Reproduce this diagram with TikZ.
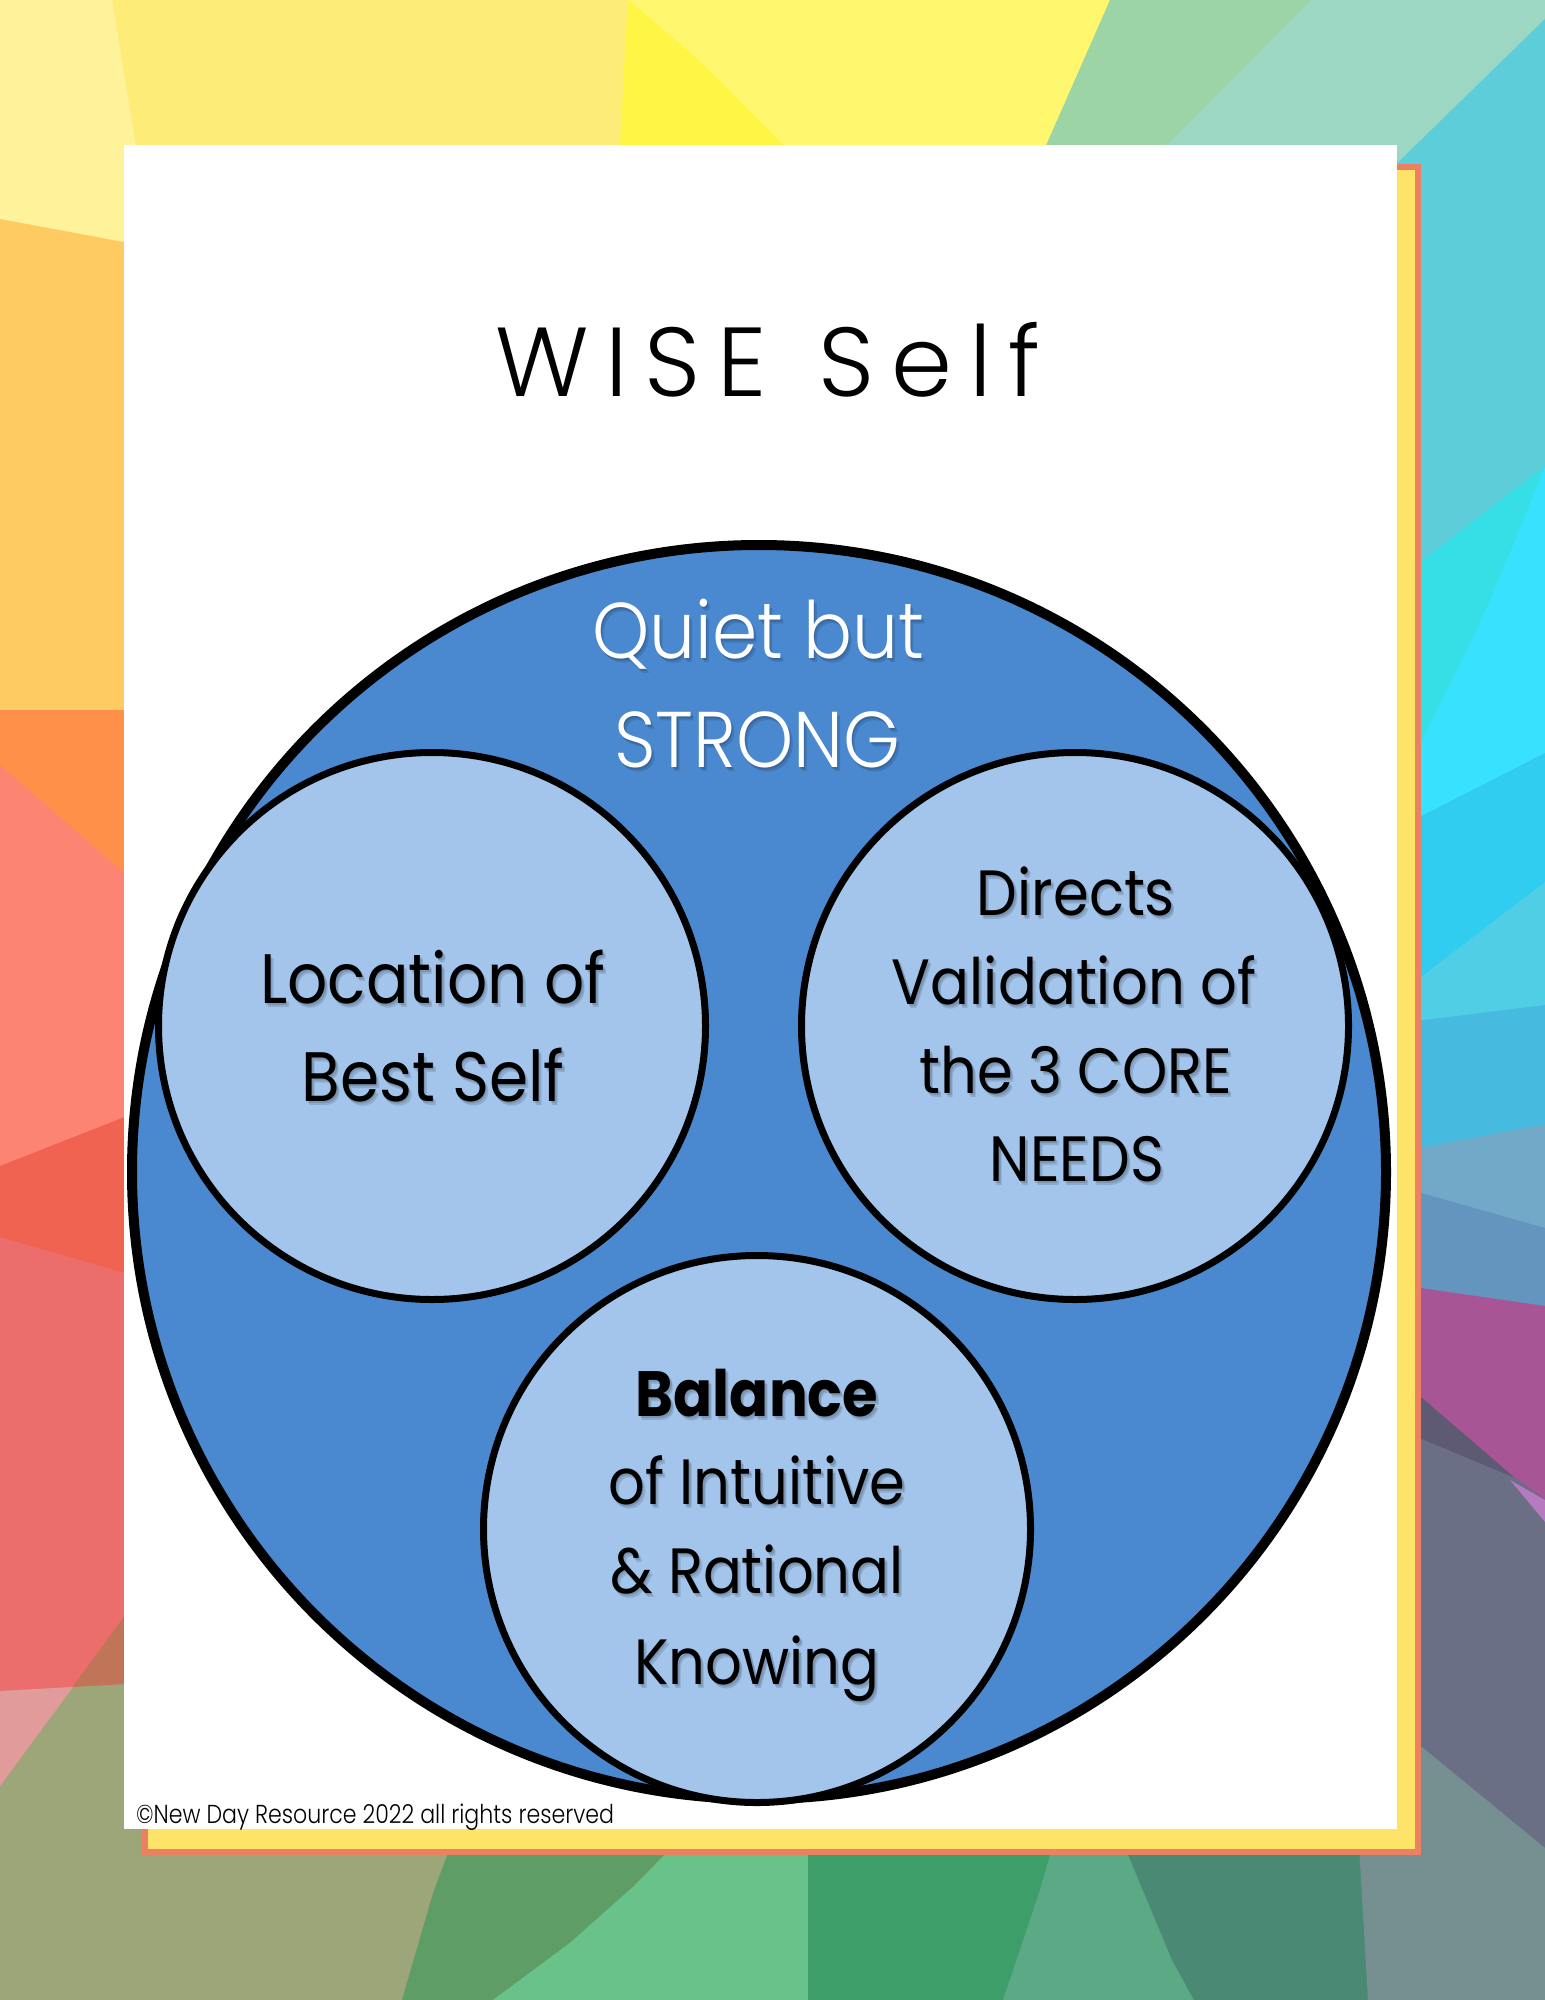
\documentclass[tikz,border=0pt]{standalone}
\usepackage{fontspec}
\newfontfamily\bodyfont[FakeStretch=0.9]{Poppins}
\newfontfamily\lightfont[FakeStretch=0.92]{Poppins Light}
\newfontfamily\titlefont[LetterSpace=17]{Poppins Light}
\newfontfamily\copyfont[FakeStretch=0.85]{Poppins Light}
\usetikzlibrary{calc}
% background colours
\definecolor{cPale}{HTML}{FEF39A}
\definecolor{cYel}{HTML}{FEEC78}
\definecolor{cLYel}{HTML}{FFF76E}
\definecolor{cBYel}{HTML}{FFF545}
\definecolor{cGrnT}{HTML}{9CD4A6}
\definecolor{cMint}{HTML}{9BD7C2}
\definecolor{cCyan}{HTML}{5DCDD9}
\definecolor{cTurq}{HTML}{36DEE6}
\definecolor{cBCyan}{HTML}{38E1FD}
\definecolor{cC4}{HTML}{30CDF0}
\definecolor{cC5}{HTML}{50CEE6}
\definecolor{cC6}{HTML}{47BADF}
\definecolor{cC7}{HTML}{72A8C8}
\definecolor{cC8}{HTML}{6395BF}
\definecolor{cMag}{HTML}{A85595}
\definecolor{cDark}{HTML}{5F5A73}
\definecolor{cPinkS}{HTML}{B57ABF}
\definecolor{cSlate}{HTML}{6A6F85}
\definecolor{cGrayT}{HTML}{768F91}
\definecolor{cOYel}{HTML}{FDCB62}
\definecolor{cOrange}{HTML}{FE9049}
\definecolor{cSalmon}{HTML}{FC8473}
\definecolor{cRed}{HTML}{F06351}
\definecolor{cRose}{HTML}{EC6E6C}
\definecolor{cBrown}{HTML}{C07458}
\definecolor{cPink}{HTML}{E19B9B}
\definecolor{cOlive}{HTML}{9DA679}
\definecolor{cG1}{HTML}{5E9E66}
\definecolor{cG2}{HTML}{68C28A}
\definecolor{cG3}{HTML}{3E9E6A}
\definecolor{cG4}{HTML}{5CA986}
\definecolor{cG5}{HTML}{4A8A74}
% frame and diagram colours
\definecolor{cFrameR}{HTML}{EC8063}
\definecolor{cFrameY}{HTML}{FDE367}
\definecolor{cBlue}{HTML}{4A89D0}
\definecolor{cLight}{HTML}{A3C5EC}

\newcommand\shtext[5]{%
  \node[#4, text=black, text opacity=0.13] (#1a) at ($(#2,#3)+(1.5,2.5)$) {#5};
  \node[#4, text=black, text opacity=0.13] (#1b) at ($(#2,#3)+(3,4.5)$) {#5};
  \node[#4] (#1) at (#2,#3) {#5};}

\begin{document}
\begin{tikzpicture}[x=0.5pt,y=-0.5pt,
  txt/.style={anchor=base, inner sep=0pt, outer sep=0pt},
  bodyL/.style={txt, text=black, font=\bodyfont\fontsize{35}{42}\selectfont},
  bodyS/.style={txt, text=black, font=\bodyfont\fontsize{32}{38}\selectfont},
  bodyW/.style={txt, text=white, font=\lightfont\fontsize{39.5}{46}\selectfont},
  titlestyle/.style={txt, text=black, font=\titlefont\fontsize{49}{56}\selectfont},
  copystyle/.style={txt, anchor=base west, text=black, font=\copyfont\fontsize{13}{15}\selectfont},
  bigcircle/.style={circle, draw=black, line width=5pt, fill=cBlue, minimum size=627pt, inner sep=0pt},
  smallcircle/.style={circle, draw=black, line width=3.5pt, fill=cLight, minimum size=273.5pt, inner sep=0pt}
]
\useasboundingbox (0,0) rectangle (1545,2000);
\begin{scope}
\clip (0,0) rectangle (1545,2000);
\fill[cPale] (0,0) rectangle (1545,2000);
% top strip
\fill[cYel] (112,0) -- (1545,0) -- (1545,200) -- (145,200) -- cycle;
\fill[cLYel] (628,0) -- (1545,0) -- (1545,200) -- (617,200) -- cycle;
\fill[cBYel] (628,0) .. controls (700,60) .. (783,145) -- (830,200) -- (617,200) -- cycle;
\fill[cGrnT] (1110,0) -- (1545,0) -- (1545,200) -- (1022,200) -- cycle;
\fill[cMint] (1311,0) -- (1545,0) -- (1545,200) -- (1112,200) -- cycle;
% right strip
\fill[cCyan] (1380,180) -- (1545,19) -- (1545,2000) -- (1380,2000) -- cycle;
\fill[cTurq] (1400,578) -- (1545,466) -- (1545,2000) -- (1400,2000) -- cycle;
\fill[cBCyan] (1400,752) -- (1422,740) .. controls (1485,615) .. (1545,466) -- (1545,2000) -- (1400,2000) -- cycle;
\fill[cC4] (1400,827) -- (1545,753) -- (1545,2000) -- (1400,2000) -- cycle;
\fill[cC5] (1400,993) -- (1545,882) -- (1545,2000) -- (1400,2000) -- cycle;
\fill[cC6] (1400,1023) -- (1545,1005) -- (1545,2000) -- (1400,2000) -- cycle;
\fill[cC7] (1400,1152) -- (1545,1124) -- (1545,2000) -- (1400,2000) -- cycle;
\fill[cC8] (1400,1187) -- (1545,1228) -- (1545,2000) -- (1400,2000) -- cycle;
\fill[cMag] (1400,1285) -- (1545,1306) -- (1545,2000) -- (1400,2000) -- cycle;
\fill[cDark] (1400,1379) -- (1515,1478) -- (1545,1500) -- (1545,2000) -- (1400,2000) -- cycle;
\fill[cSlate] (1400,1430) -- (1515,1478) -- (1545,1500) -- (1545,2000) -- (1400,2000) -- cycle;
\fill[cPinkS] (1510,1480) -- (1545,1500) -- (1545,1522) -- cycle;
\fill[cGrayT] (1400,1729) -- (1545,1848) -- (1545,2000) -- (1400,2000) -- cycle;
% left strip
\fill[cOYel] (0,219) -- (145,246) -- (145,2000) -- (0,2000) -- cycle;
\fill[cOrange] (0,710) -- (145,710) -- (145,2000) -- (0,2000) -- cycle;
\fill[cSalmon] (0,765) -- (145,891) -- (145,2000) -- (0,2000) -- cycle;
\fill[cRed] (0,1166) -- (145,1109) -- (145,2000) -- (0,2000) -- cycle;
\fill[cRose] (0,1237) -- (145,1279) -- (145,2000) -- (0,2000) -- cycle;
\fill[cBrown] (0,1786) -- (145,1588) -- (145,2000) -- (0,2000) -- cycle;
\fill[cOlive] (0,1691) -- (145,1683) -- (145,2000) -- (0,2000) -- cycle;
\fill[cPink] (0,1691) -- (73,1687) -- (0,1786) -- cycle;
% bottom strip
\fill[cOlive] (0,1845) -- (1421,1845) -- (1421,1855) -- (1545,1855) -- (1545,2000) -- (0,2000) -- cycle;
\fill[cG1] (451,1845) -- (433,1893) -- (402,2000) -- (1545,2000) -- (1545,1855) -- (1421,1855) -- (1421,1845) -- cycle;
\fill[cG2] (674,1845) -- (635,1885) -- (571,1942) -- (493,2000) -- (1545,2000) -- (1545,1855) -- (1421,1855) -- (1421,1845) -- cycle;
\fill[cG3] (808,1845) -- (808,2000) -- (1545,2000) -- (1545,1855) -- (1421,1855) -- (1421,1845) -- cycle;
\fill[cG4] (1053,1845) -- (1039,1893) -- (1003,2000) -- (1545,2000) -- (1545,1855) -- (1421,1855) -- (1421,1845) -- cycle;
\fill[cG5] (1124,1845) -- (1172,1960) -- (1194,2000) -- (1545,2000) -- (1545,1855) -- (1421,1855) -- (1421,1845) -- cycle;
\fill[cGrayT] (1359,1845) -- (1368,2000) -- (1545,2000) -- (1545,1855) -- (1421,1855) -- (1421,1845) -- cycle;
\end{scope}
% frame
\fill[cFrameR] (142,164) rectangle (1421,1855);
\fill[cFrameY] (148,170) rectangle (1415,1849);
\fill[white] (124,145) rectangle (1397,1829);
% title
\node[titlestyle] (title) at (768,397) {WISE\hspace{26pt}Self};
% circles
\node[bigcircle] (wise) at (759,1172) {};
\node[smallcircle] (left) at (432,1026) {};
\node[smallcircle] (right) at (1075,1026) {};
\node[smallcircle] (bottom) at (757,1529) {};
% texts (with a soft drop shadow)
\shtext{q1}{758}{658}{bodyW}{Quiet but}
\shtext{q2}{757}{767}{bodyW}{STRONG}
\shtext{l1}{433}{1003}{bodyL}{Location of}
\shtext{l2}{433}{1101}{bodyL}{Best Self}
\shtext{r1}{1076}{915}{bodyS}{Directs}
\shtext{r2}{1074}{1004}{bodyS}{Validation of}
\shtext{r3}{1076}{1093}{bodyS}{the 3 CORE}
\shtext{r4}{1077}{1181}{bodyS}{NEEDS}
\shtext{b1}{757}{1416}{bodyS}{\bfseries Balance}
\shtext{b2}{757}{1504}{bodyS}{of Intuitive}
\shtext{b3}{757}{1593}{bodyS}{\& Rational}
\shtext{b4}{757}{1684}{bodyS}{Knowing}
% copyright
\node[copystyle] (copy) at (136,1823) {©New Day Resource 2022 all rights reserved};
\end{tikzpicture}
\end{document}
